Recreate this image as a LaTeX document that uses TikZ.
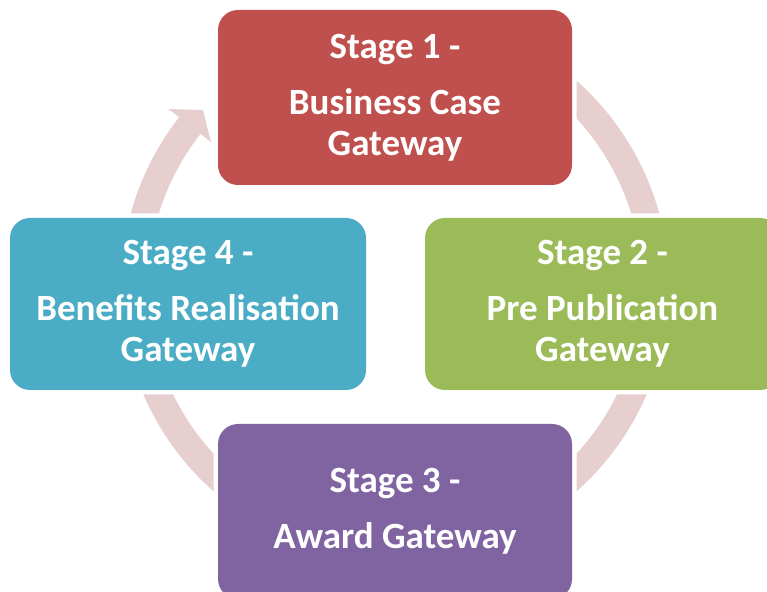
\documentclass[tikz,border=0pt]{standalone}
\usepackage{fontspec}
\setmainfont{Carlito}
\usetikzlibrary{calc}
\definecolor{stagered}{RGB}{192,80,77}
\definecolor{stagegreen}{RGB}{155,187,89}
\definecolor{stageblue}{RGB}{75,172,198}
\definecolor{stagepurple}{RGB}{128,100,162}
\definecolor{ringpink}{RGB}{231,207,208}
\begin{document}
\begin{tikzpicture}[x=1pt,y=1pt,
  stagebox/.style={rectangle, rounded corners=20pt, inner sep=0pt, align=center,
    text=white, font=\bfseries\fontsize{37}{41}\selectfont,
    preaction={draw=white, line width=9pt}},
  ringstyle/.style={draw=ringpink, line width=27pt}]
\useasboundingbox (0,0) rectangle (767,591);
\clip (0,0) rectangle (767,591);
\coordinate (c) at (395,305);
\coordinate (tail) at ($(c)+(120:260.5)$);
\coordinate (w1) at ($(c)+(142:233.5)$);
\coordinate (w2) at ($(c)+(142:287.5)$);
\coordinate (tip) at ($(c)+(137.5:260.5)$);
\draw[ringstyle] (tail) arc[start angle=120, end angle=-218.3, radius=260.5];
\fill[ringpink] (w1) -- (w2) -- (tip) -- cycle;
\node[stagebox, fill=stagered, minimum width=354pt, minimum height=175pt] (s1) at (395,493.5)
  {Stage 1 -\\[15pt]Business Case\\Gateway};
\node[stagebox, fill=stagegreen, minimum width=355pt, minimum height=172pt] (s2) at (602.5,287)
  {Stage 2 -\\[15pt]Pre Publication\\Gateway};
\node[stagebox, fill=stageblue, minimum width=356pt, minimum height=172pt] (s4) at (188,287)
  {Stage 4 -\\[15pt]Benefits Realisation\\Gateway};
\node[stagebox, fill=stagepurple, minimum width=354pt, minimum height=175pt] (s3) at (395,79.5)
  {Stage 3 -\\[15pt]Award Gateway};
\end{tikzpicture}
\end{document}
